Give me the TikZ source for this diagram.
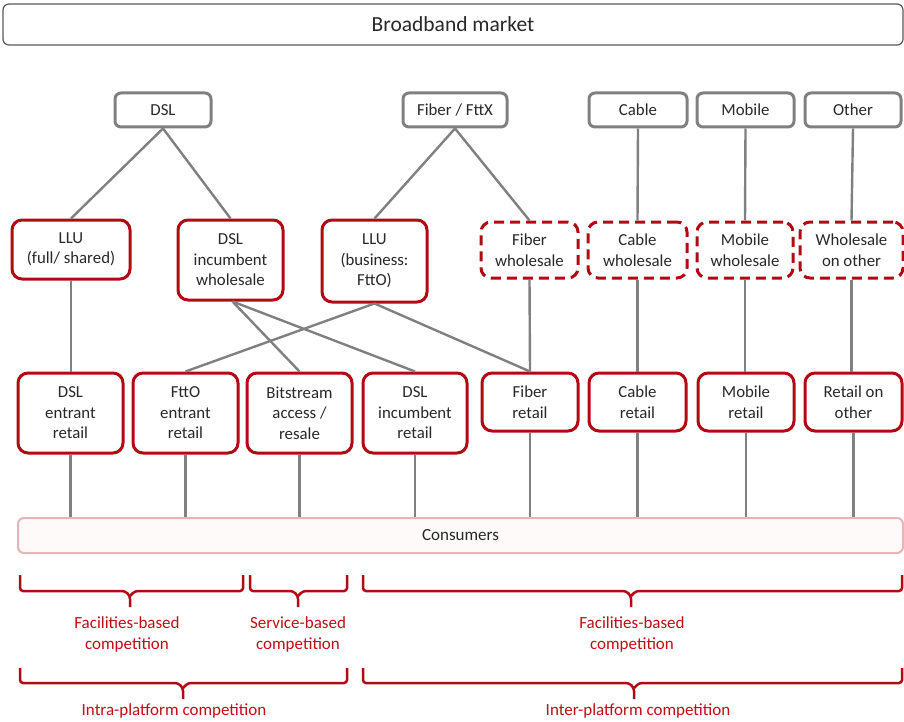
\documentclass[tikz,border=0pt]{standalone}
\usepackage{fontspec}
\setmainfont{Carlito}
\definecolor{grayc}{RGB}{128,128,128}
\definecolor{redc}{RGB}{178,10,20}
\definecolor{labred}{RGB}{190,15,20}
\definecolor{txt}{RGB}{40,40,40}
\definecolor{pinkb}{RGB}{228,182,184}
\definecolor{pinkf}{RGB}{254,250,250}
\newcommand\mybrace[5]{%
  \draw[brc] (#1,#4) -- (#1,#5) -- (#3-5,#5) -- (#3,#5+5) -- (#3,#5+16);
  \draw[brc] (#3,#5+5) -- (#3+5,#5) -- (#2,#5) -- (#2,#4);}
\begin{document}
\begin{tikzpicture}[x=1pt,y=-1pt,
  box/.style={align=center, inner sep=0pt, font=\fontsize{16.8}{20.5}\selectfont, text=txt},
  gbox/.style={box, draw=grayc, line width=3pt, rounded corners=6pt, fill=white, minimum height=34pt},
  rbox/.style={box, draw=redc, line width=3pt, rounded corners=10pt, fill=white},
  dbox/.style={rbox, dash pattern=on 10pt off 6pt},
  conn/.style={draw=grayc, line width=2.4pt},
  brc/.style={draw=redc, line width=2.5pt, rounded corners=3pt},
  lab/.style={align=center, text=labred, font=\fontsize{17}{21}\selectfont, inner sep=0pt}]
\useasboundingbox (0,0) rectangle (904,722);
\fill[white] (0,0) rectangle (904,722);

\node[box, draw=black!65, line width=1.2pt, rounded corners=6pt, minimum width=900pt, minimum height=41pt,
  font=\fontsize{21.5}{25}\selectfont] (top) at (453,24.5) {Broadband market};

% row 1
\node[gbox, minimum width=96pt]  (dsl) at (163,110) {DSL};
\node[gbox, minimum width=104pt] (fib) at (455,110) {Fiber / FttX};
\node[gbox, minimum width=98pt]  (cab) at (638,110) {Cable};
\node[gbox, minimum width=97pt]  (mob) at (745.5,110) {Mobile};
\node[gbox, minimum width=96pt]  (oth) at (853,110) {Other};

% row 2
\node[rbox, minimum width=118pt, minimum height=59pt] (llu)  at (71,249.5) {LLU\\(full/ shared)};
\node[rbox, minimum width=105pt, minimum height=80pt] (dinw) at (230.5,260) {DSL\\incumbent\\wholesale};
\node[rbox, minimum width=105pt, minimum height=82pt] (llub) at (374.5,261) {LLU\\(business:\\FttO)};
\node[dbox, minimum width=97pt,  minimum height=56pt] (fibw) at (529.5,250) {Fiber\\wholesale};
\node[dbox, minimum width=99pt,  minimum height=56pt] (cabw) at (637.5,250) {Cable\\wholesale};
\node[dbox, minimum width=96pt,  minimum height=56pt] (mobw) at (745,250) {Mobile\\wholesale};
\node[dbox, minimum width=103pt, minimum height=56pt] (othw) at (851.5,250) {Wholesale\\on other};

% row 3
\node[rbox, minimum width=105pt, minimum height=80pt] (dse)  at (70.5,413) {DSL\\entrant\\retail};
\node[rbox, minimum width=105pt, minimum height=80pt] (fte)  at (185.5,413) {FttO\\entrant\\retail};
\node[rbox, minimum width=105pt, minimum height=80pt] (bit)  at (299.5,413) {Bitstream\\access /\\resale};
\node[rbox, minimum width=104pt, minimum height=80pt] (dsi)  at (415,413) {DSL\\incumbent\\retail};
\node[rbox, minimum width=96pt,  minimum height=58pt] (fibr) at (530,402) {Fiber\\retail};
\node[rbox, minimum width=97pt,  minimum height=58pt] (cabr) at (637.5,402) {Cable\\retail};
\node[rbox, minimum width=96pt,  minimum height=58pt] (mobr) at (746,402) {Mobile\\retail};
\node[rbox, minimum width=97pt,  minimum height=58pt] (othr) at (853.5,402) {Retail on\\other};

% consumers
\node[box, draw=pinkb, fill=pinkf, line width=2pt, rounded corners=6pt, minimum width=885pt, minimum height=35pt,
  font=\fontsize{17}{20}\selectfont] (cons) at (460.5,535.5) {Consumers};

% connectors
\draw[conn] (dsl.south) -- (llu.north);
\draw[conn] (dsl.south) -- (dinw.north);
\draw[conn] (fib.south) -- (llub.north);
\draw[conn] (fib.south) -- (fibw.north);
\draw[conn] (cab.south) -- (cabw.north);
\draw[conn] (mob.south) -- (mobw.north);
\draw[conn] (oth.south) -- (othw.north);
\draw[conn] (llu.south) -- (llu.south |- dse.north);
\draw[conn] ([xshift=2pt]dinw.south) -- (bit.north);
\draw[conn] ([xshift=2pt]dinw.south) -- (dsi.north);
\draw[conn] (llub.south) -- (fte.north);
\draw[conn] (llub.south) -- (fibr.north);
\draw[conn] (fibw.south) -- (fibr.north);
\draw[conn] (cabw.south) -- (cabw.south |- cabr.north);
\draw[conn] (mobw.south) -- (mobw.south |- mobr.north);
\draw[conn] (othw.south) -- (othw.south |- othr.north);
\foreach \n in {dse,fte,bit,dsi,fibr,cabr,mobr,othr}{
  \draw[conn] (\n.south) -- (\n.south |- cons.north);
}

% braces
\mybrace{20}{243}{130}{575}{591}
\mybrace{250}{347}{298}{575}{591}
\mybrace{363}{902}{631}{575}{591}
\mybrace{20}{347}{183}{668}{683}
\mybrace{363}{902}{634}{668}{683}

\node[lab] (l1) at (127,634) {Facilities-based\\competition};
\node[lab] (l2) at (298,634) {Service-based\\competition};
\node[lab] (l3) at (632,634) {Facilities-based\\competition};
\node[lab] (l4) at (174,711) {Intra-platform competition};
\node[lab] (l5) at (638,711) {Inter-platform competition};
\end{tikzpicture}
\end{document}
